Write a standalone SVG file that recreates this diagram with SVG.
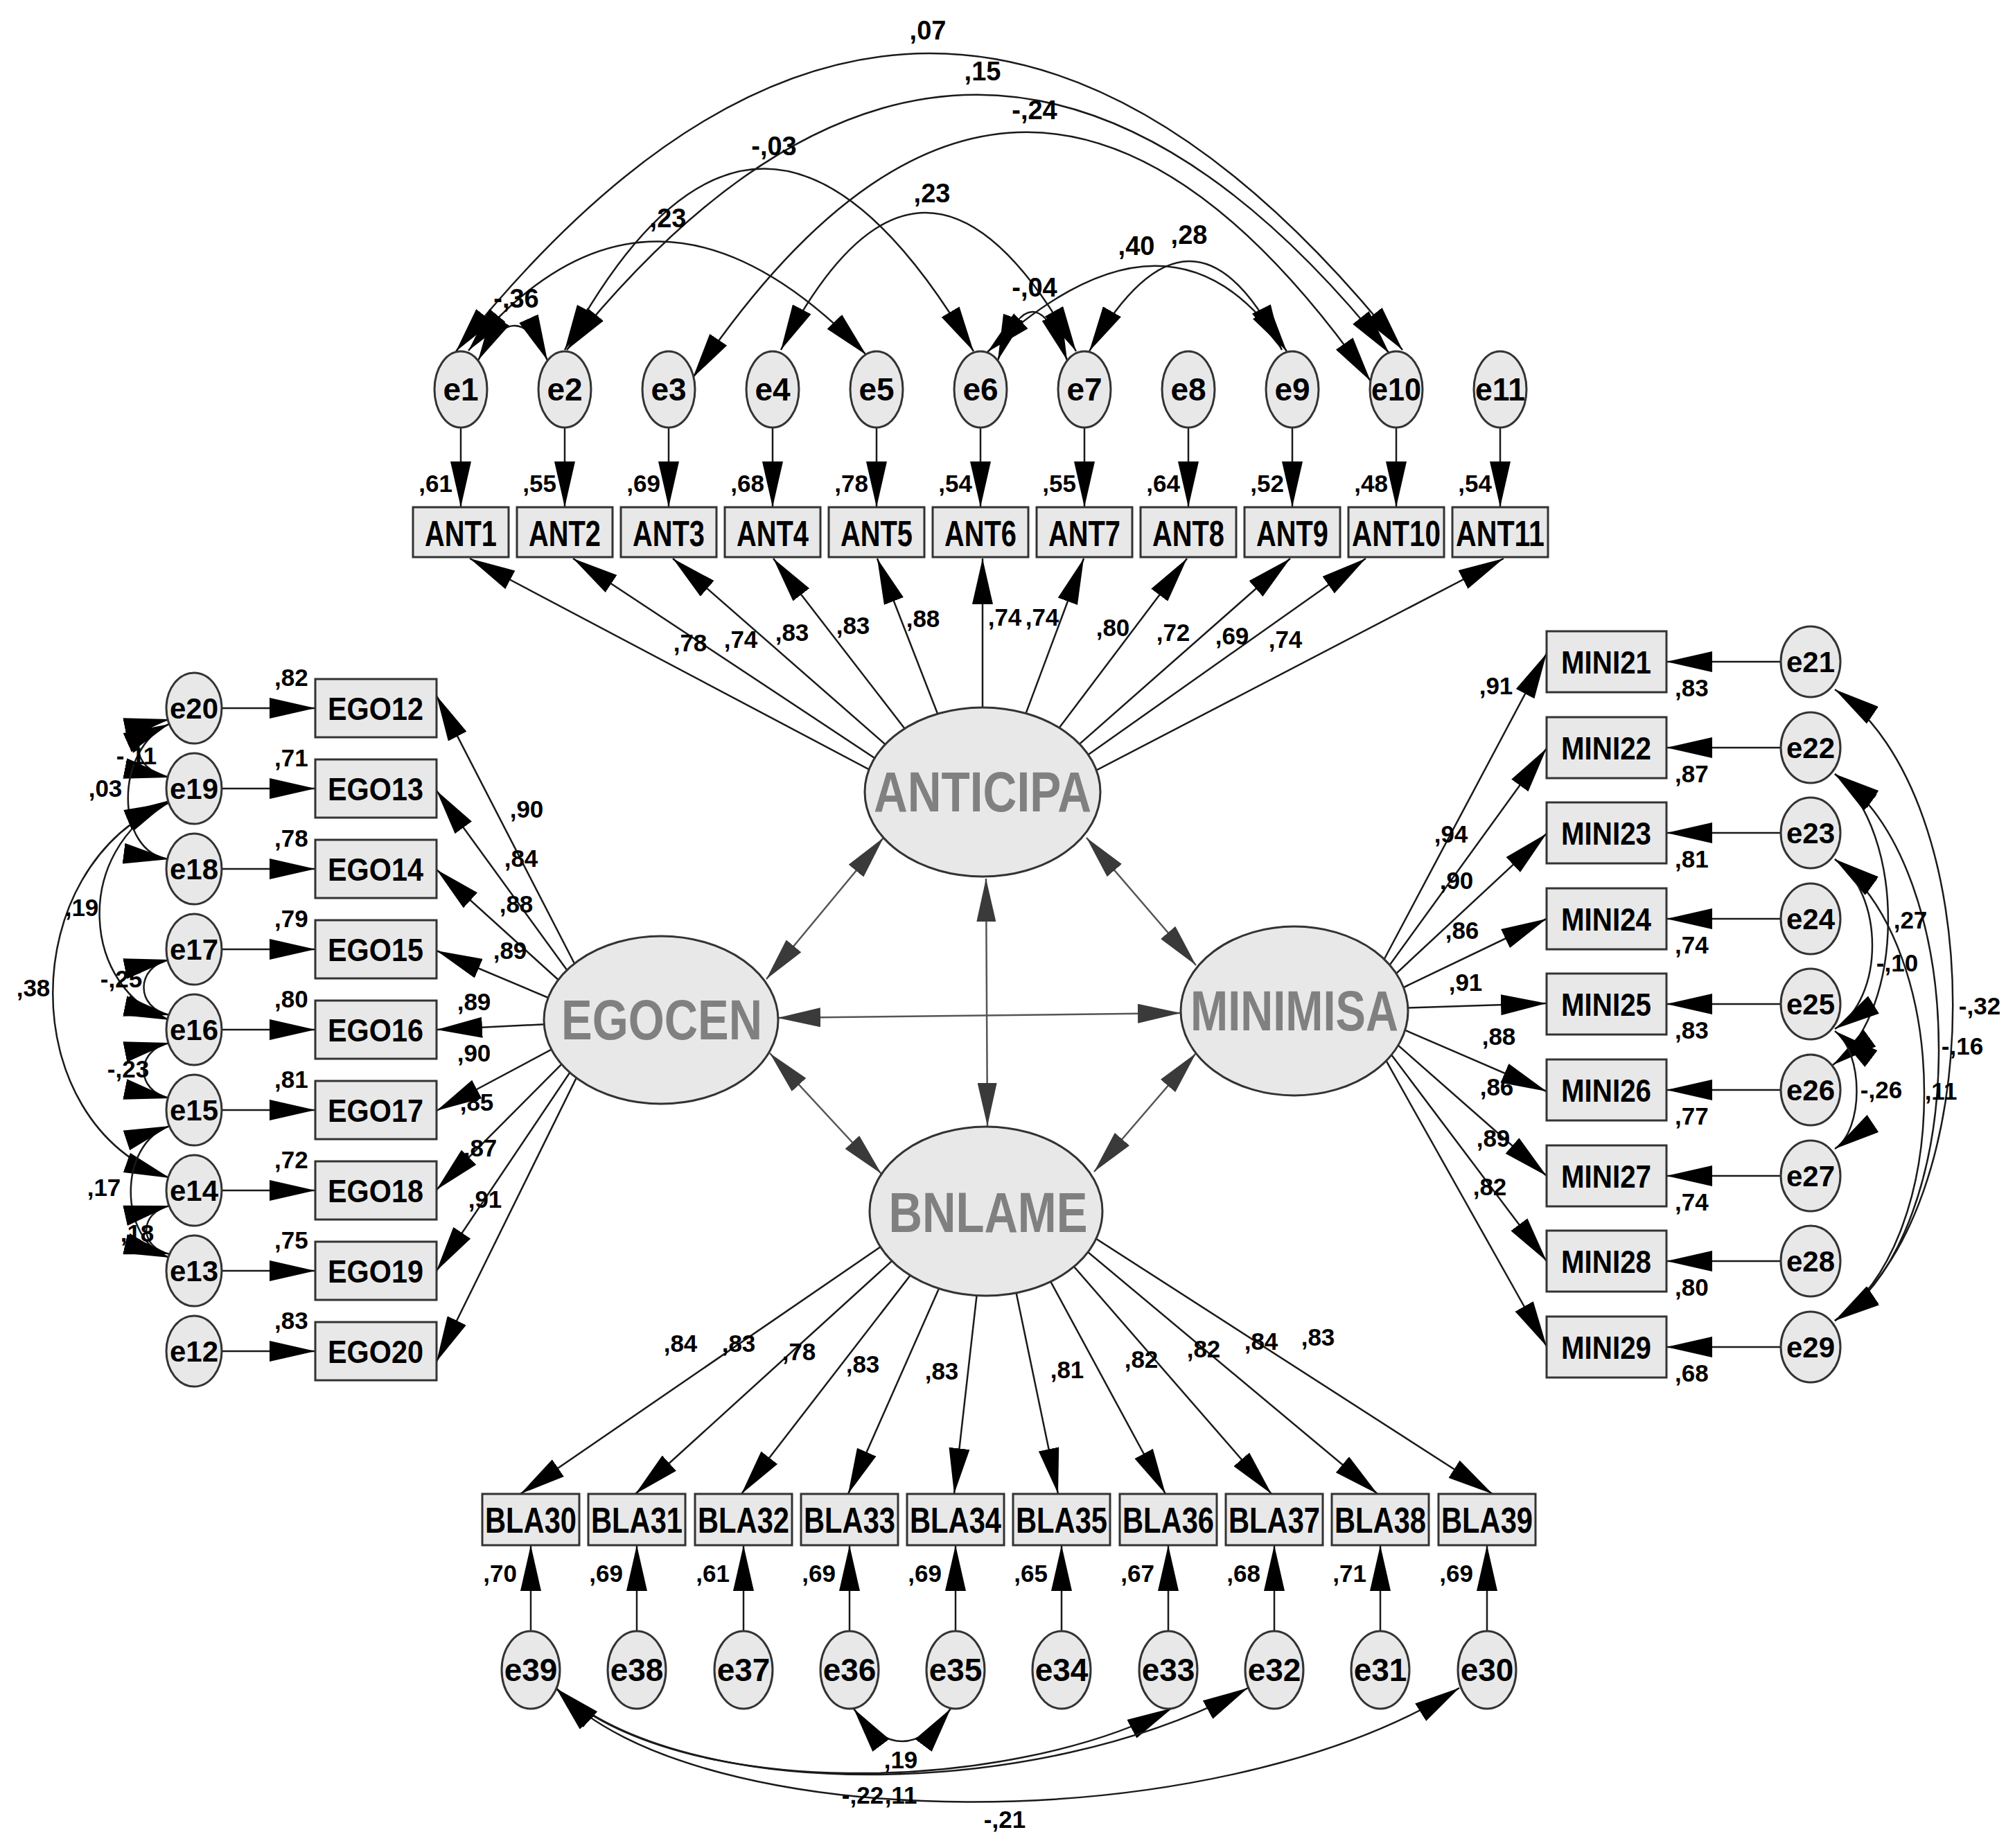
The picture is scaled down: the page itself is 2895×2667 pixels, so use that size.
<svg xmlns="http://www.w3.org/2000/svg" width="2895" height="2667" viewBox="0 0 2895 2667">
<style>
.n rect,.n ellipse{fill:#e8e8e8;stroke:#333;stroke-width:3}
text{font-family:"Liberation Sans",Arial,sans-serif;font-weight:bold}
.lt{fill:#808080;font-size:82px;text-anchor:middle}
.nt{fill:#000;text-anchor:middle}
.ant{font-size:52px}
.ego{font-size:46px}
.er{font-size:46px}
.ers{font-size:42px}
.v{font-size:35px;fill:#000}
.vm{font-size:35px;fill:#000;text-anchor:middle}
.ve{font-size:35px;fill:#000;text-anchor:end}
.vt{font-size:38px;fill:#000;text-anchor:middle}
.lc{stroke:#555}
</style>
<defs>
<marker id="ah" viewBox="0 0 66 30" markerWidth="66" markerHeight="30" refX="66" refY="15" orient="auto-start-reverse" markerUnits="userSpaceOnUse"><path d="M0,0 L66,15 L0,30 z" fill="#000"/></marker>
<marker id="ag" viewBox="0 0 62 28" markerWidth="62" markerHeight="28" refX="62" refY="14" orient="auto-start-reverse" markerUnits="userSpaceOnUse"><path d="M0,0 L62,14 L0,28 z" fill="#3a3a3a"/></marker>
</defs>
<rect width="2895" height="2667" fill="#fff"/>
<g id="connectors" fill="none" stroke="#1a1a1a" stroke-width="2.5">
<path d="M658,507 Q1341,-352 2024,505" marker-start="url(#ah)" marker-end="url(#ah)"/>
<path d="M818,505 Q1411,-234 2005,510" marker-start="url(#ah)" marker-end="url(#ah)"/>
<path d="M1000,545 Q1477,-166 1978,550" marker-start="url(#ah)" marker-end="url(#ah)"/>
<path d="M815,505 Q1096,-19 1405,507" marker-start="url(#ah)" marker-end="url(#ah)"/>
<path d="M676,506 Q939,188 1250,512" marker-start="url(#ah)" marker-end="url(#ah)"/>
<path d="M1127,505 Q1332,108 1553,507" marker-start="url(#ah)" marker-end="url(#ah)"/>
<path d="M690,520 Q745,420 790,520" marker-start="url(#ah)" marker-end="url(#ah)"/>
<path d="M1440,520 Q1490,380 1540,520" marker-start="url(#ah)" marker-end="url(#ah)"/>
<path d="M1425,508 Q1693,260 1857,507" marker-start="url(#ah)" marker-end="url(#ah)"/>
<path d="M1572,507 Q1721,248 1850,505" marker-start="url(#ah)" marker-end="url(#ah)"/>
<path d="M665,617V732" marker-end="url(#ah)"/>
<path d="M815,617V732" marker-end="url(#ah)"/>
<path d="M965,617V732" marker-end="url(#ah)"/>
<path d="M1115,617V732" marker-end="url(#ah)"/>
<path d="M1265,617V732" marker-end="url(#ah)"/>
<path d="M1415,617V732" marker-end="url(#ah)"/>
<path d="M1565,617V732" marker-end="url(#ah)"/>
<path d="M1715,617V732" marker-end="url(#ah)"/>
<path d="M1865,617V732" marker-end="url(#ah)"/>
<path d="M2015,617V732" marker-end="url(#ah)"/>
<path d="M2165,617V732" marker-end="url(#ah)"/>
<path d="M1418,1197L678,806" marker-end="url(#ah)"/>
<path d="M1418,1197L827,806" marker-end="url(#ah)"/>
<path d="M1418,1197L971,806" marker-end="url(#ah)"/>
<path d="M1418,1197L1116,806" marker-end="url(#ah)"/>
<path d="M1418,1197L1266,806" marker-end="url(#ah)"/>
<path d="M1418,1197L1418,806" marker-end="url(#ah)"/>
<path d="M1418,1197L1564,806" marker-end="url(#ah)"/>
<path d="M1418,1197L1713,806" marker-end="url(#ah)"/>
<path d="M1418,1197L1862,806" marker-end="url(#ah)"/>
<path d="M1418,1197L1971,806" marker-end="url(#ah)"/>
<path d="M1418,1197L2170,806" marker-end="url(#ah)"/>
<path d="M320,1022H455" marker-end="url(#ah)"/>
<path d="M320,1138H455" marker-end="url(#ah)"/>
<path d="M320,1254H455" marker-end="url(#ah)"/>
<path d="M320,1370H455" marker-end="url(#ah)"/>
<path d="M320,1486H455" marker-end="url(#ah)"/>
<path d="M320,1602H455" marker-end="url(#ah)"/>
<path d="M320,1718H455" marker-end="url(#ah)"/>
<path d="M320,1834H455" marker-end="url(#ah)"/>
<path d="M320,1950H455" marker-end="url(#ah)"/>
<path d="M872,1474L630,1004" marker-end="url(#ah)"/>
<path d="M872,1474L630,1141" marker-end="url(#ah)"/>
<path d="M872,1474L630,1255" marker-end="url(#ah)"/>
<path d="M872,1474L630,1372" marker-end="url(#ah)"/>
<path d="M872,1474L630,1486" marker-end="url(#ah)"/>
<path d="M872,1474L630,1603" marker-end="url(#ah)"/>
<path d="M872,1474L630,1717" marker-end="url(#ah)"/>
<path d="M872,1474L630,1834" marker-end="url(#ah)"/>
<path d="M872,1474L630,1965" marker-end="url(#ah)"/>
<path d="M245,1038 C185,1050 185,1110 245,1122" marker-start="url(#ah)" marker-end="url(#ah)"/>
<path d="M244,1045 C165,1080 165,1230 244,1240" marker-start="url(#ah)" marker-end="url(#ah)"/>
<path d="M245,1155 C100,1230 120,1430 245,1472" marker-start="url(#ah)" marker-end="url(#ah)"/>
<path d="M245,1158 C20,1250 20,1620 245,1700" marker-start="url(#ah)" marker-end="url(#ah)"/>
<path d="M245,1385 C195,1395 195,1455 245,1465" marker-start="url(#ah)" marker-end="url(#ah)"/>
<path d="M245,1505 C195,1515 195,1575 245,1585" marker-start="url(#ah)" marker-end="url(#ah)"/>
<path d="M245,1625 C170,1650 170,1790 245,1815" marker-start="url(#ah)" marker-end="url(#ah)"/>
<path d="M245,1740 C200,1750 200,1800 245,1810" marker-start="url(#ah)" marker-end="url(#ah)"/>
<path d="M2570,955H2405" marker-end="url(#ah)"/>
<path d="M2570,1079H2405" marker-end="url(#ah)"/>
<path d="M2570,1202H2405" marker-end="url(#ah)"/>
<path d="M2570,1326H2405" marker-end="url(#ah)"/>
<path d="M2570,1449H2405" marker-end="url(#ah)"/>
<path d="M2570,1573H2405" marker-end="url(#ah)"/>
<path d="M2570,1697H2405" marker-end="url(#ah)"/>
<path d="M2570,1820H2405" marker-end="url(#ah)"/>
<path d="M2570,1944H2405" marker-end="url(#ah)"/>
<path d="M1959,1457L2232,943" marker-end="url(#ah)"/>
<path d="M1959,1457L2232,1080" marker-end="url(#ah)"/>
<path d="M1959,1457L2232,1203" marker-end="url(#ah)"/>
<path d="M1959,1457L2232,1326" marker-end="url(#ah)"/>
<path d="M1959,1457L2232,1448" marker-end="url(#ah)"/>
<path d="M1959,1457L2232,1575" marker-end="url(#ah)"/>
<path d="M1959,1457L2232,1697" marker-end="url(#ah)"/>
<path d="M1959,1457L2232,1820" marker-end="url(#ah)"/>
<path d="M1959,1457L2232,1943" marker-end="url(#ah)"/>
<path d="M2648,995 C2875,1150 2875,1750 2648,1906" marker-start="url(#ah)" marker-end="url(#ah)"/>
<path d="M2648,1117 C2848,1250 2848,1780 2648,1906" marker-start="url(#ah)" marker-end="url(#ah)"/>
<path d="M2648,1240 C2820,1370 2820,1790 2648,1906" marker-start="url(#ah)" marker-end="url(#ah)"/>
<path d="M2648,1117 C2751,1200 2751,1460 2645,1537" marker-start="url(#ah)" marker-end="url(#ah)"/>
<path d="M2648,1240 C2720,1290 2720,1440 2648,1485" marker-start="url(#ah)" marker-end="url(#ah)"/>
<path d="M2648,1488 C2690,1520 2690,1630 2648,1658" marker-start="url(#ah)" marker-end="url(#ah)"/>
<path d="M1430,1690L751,2156" marker-end="url(#ah)"/>
<path d="M1430,1690L917,2156" marker-end="url(#ah)"/>
<path d="M1430,1690L1070,2156" marker-end="url(#ah)"/>
<path d="M1430,1690L1224,2156" marker-end="url(#ah)"/>
<path d="M1430,1690L1377,2156" marker-end="url(#ah)"/>
<path d="M1430,1690L1527,2156" marker-end="url(#ah)"/>
<path d="M1430,1690L1682,2156" marker-end="url(#ah)"/>
<path d="M1430,1690L1835,2156" marker-end="url(#ah)"/>
<path d="M1430,1690L1988,2156" marker-end="url(#ah)"/>
<path d="M1430,1690L2154,2156" marker-end="url(#ah)"/>
<path d="M766,2354V2230" marker-end="url(#ah)"/>
<path d="M919,2354V2230" marker-end="url(#ah)"/>
<path d="M1073,2354V2230" marker-end="url(#ah)"/>
<path d="M1226,2354V2230" marker-end="url(#ah)"/>
<path d="M1379,2354V2230" marker-end="url(#ah)"/>
<path d="M1532,2354V2230" marker-end="url(#ah)"/>
<path d="M1686,2354V2230" marker-end="url(#ah)"/>
<path d="M1839,2354V2230" marker-end="url(#ah)"/>
<path d="M1992,2354V2230" marker-end="url(#ah)"/>
<path d="M2146,2354V2230" marker-end="url(#ah)"/>
<path d="M1232,2466 Q1302,2560 1372,2466" marker-start="url(#ah)" marker-end="url(#ah)"/>
<path d="M803,2437 C980,2600 1450,2590 1692,2465" marker-start="url(#ah)" marker-end="url(#ah)"/>
<path d="M803,2437 C990,2605 1500,2600 1801,2436" marker-start="url(#ah)" marker-end="url(#ah)"/>
<path d="M803,2437 C1000,2650 1750,2660 2106,2436" marker-start="url(#ah)" marker-end="url(#ah)"/>
<path class="lc" d="M1275,1209L1106,1413" marker-start="url(#ag)" marker-end="url(#ag)"/>
<path class="lc" d="M1568,1209L1726,1393" marker-start="url(#ag)" marker-end="url(#ag)"/>
<path class="lc" d="M1423,1268L1425,1625" marker-start="url(#ag)" marker-end="url(#ag)"/>
<path class="lc" d="M1122,1469L1704,1462" marker-start="url(#ag)" marker-end="url(#ag)"/>
<path class="lc" d="M1111,1520L1272,1694" marker-start="url(#ag)" marker-end="url(#ag)"/>
<path class="lc" d="M1726,1520L1579,1691" marker-start="url(#ag)" marker-end="url(#ag)"/>
</g>
<g id="ANTICIPA" class="n"><ellipse cx="1418" cy="1143" rx="170" ry="122"/><text class="lt" x="1418" y="1171" textLength="314" lengthAdjust="spacingAndGlyphs">ANTICIPA</text></g>
<g id="EGOCEN" class="n"><ellipse cx="954" cy="1472" rx="169" ry="121"/><text class="lt" x="955" y="1500" textLength="290" lengthAdjust="spacingAndGlyphs">EGOCEN</text></g>
<g id="MINIMISA" class="n"><ellipse cx="1868" cy="1459" rx="164" ry="122"/><text class="lt" x="1868" y="1487" textLength="300" lengthAdjust="spacingAndGlyphs">MINIMISA</text></g>
<g id="BNLAME" class="n"><ellipse cx="1423" cy="1748" rx="168" ry="122"/><text class="lt" x="1426" y="1778" textLength="287" lengthAdjust="spacingAndGlyphs">BNLAME</text></g>
<g id="e1" class="n"><ellipse cx="665" cy="562" rx="38" ry="55"/><text class="nt er" x="665" y="578">e1</text></g>
<g id="e2" class="n"><ellipse cx="815" cy="562" rx="38" ry="55"/><text class="nt er" x="815" y="578">e2</text></g>
<g id="e3" class="n"><ellipse cx="965" cy="562" rx="38" ry="55"/><text class="nt er" x="965" y="578">e3</text></g>
<g id="e4" class="n"><ellipse cx="1115" cy="562" rx="38" ry="55"/><text class="nt er" x="1115" y="578">e4</text></g>
<g id="e5" class="n"><ellipse cx="1265" cy="562" rx="38" ry="55"/><text class="nt er" x="1265" y="578">e5</text></g>
<g id="e6" class="n"><ellipse cx="1415" cy="562" rx="38" ry="55"/><text class="nt er" x="1415" y="578">e6</text></g>
<g id="e7" class="n"><ellipse cx="1565" cy="562" rx="38" ry="55"/><text class="nt er" x="1565" y="578">e7</text></g>
<g id="e8" class="n"><ellipse cx="1715" cy="562" rx="38" ry="55"/><text class="nt er" x="1715" y="578">e8</text></g>
<g id="e9" class="n"><ellipse cx="1865" cy="562" rx="38" ry="55"/><text class="nt er" x="1865" y="578">e9</text></g>
<g id="e10" class="n"><ellipse cx="2015" cy="562" rx="38" ry="55"/><text class="nt er" x="2015" y="578" textLength="72" lengthAdjust="spacingAndGlyphs">e10</text></g>
<g id="e11" class="n"><ellipse cx="2165" cy="562" rx="38" ry="55"/><text class="nt er" x="2165" y="578" textLength="72" lengthAdjust="spacingAndGlyphs">e11</text></g>
<g id="ANT1" class="n"><rect x="596" y="732" width="138" height="72"/><text class="nt ant" x="665" y="788" textLength="104" lengthAdjust="spacingAndGlyphs">ANT1</text></g>
<g id="ANT2" class="n"><rect x="746" y="732" width="138" height="72"/><text class="nt ant" x="815" y="788" textLength="104" lengthAdjust="spacingAndGlyphs">ANT2</text></g>
<g id="ANT3" class="n"><rect x="896" y="732" width="138" height="72"/><text class="nt ant" x="965" y="788" textLength="104" lengthAdjust="spacingAndGlyphs">ANT3</text></g>
<g id="ANT4" class="n"><rect x="1046" y="732" width="138" height="72"/><text class="nt ant" x="1115" y="788" textLength="104" lengthAdjust="spacingAndGlyphs">ANT4</text></g>
<g id="ANT5" class="n"><rect x="1196" y="732" width="138" height="72"/><text class="nt ant" x="1265" y="788" textLength="104" lengthAdjust="spacingAndGlyphs">ANT5</text></g>
<g id="ANT6" class="n"><rect x="1346" y="732" width="138" height="72"/><text class="nt ant" x="1415" y="788" textLength="104" lengthAdjust="spacingAndGlyphs">ANT6</text></g>
<g id="ANT7" class="n"><rect x="1496" y="732" width="138" height="72"/><text class="nt ant" x="1565" y="788" textLength="104" lengthAdjust="spacingAndGlyphs">ANT7</text></g>
<g id="ANT8" class="n"><rect x="1646" y="732" width="138" height="72"/><text class="nt ant" x="1715" y="788" textLength="104" lengthAdjust="spacingAndGlyphs">ANT8</text></g>
<g id="ANT9" class="n"><rect x="1796" y="732" width="138" height="72"/><text class="nt ant" x="1865" y="788" textLength="104" lengthAdjust="spacingAndGlyphs">ANT9</text></g>
<g id="ANT10" class="n"><rect x="1946" y="732" width="138" height="72"/><text class="nt ant" x="2015" y="788" textLength="128" lengthAdjust="spacingAndGlyphs">ANT10</text></g>
<g id="ANT11" class="n"><rect x="2096" y="732" width="138" height="72"/><text class="nt ant" x="2165" y="788" textLength="128" lengthAdjust="spacingAndGlyphs">ANT11</text></g>
<g id="e20" class="n"><ellipse cx="280" cy="1022" rx="40" ry="51"/><text class="nt ers" x="280" y="1037">e20</text></g>
<g id="e19" class="n"><ellipse cx="280" cy="1138" rx="40" ry="51"/><text class="nt ers" x="280" y="1153">e19</text></g>
<g id="e18" class="n"><ellipse cx="280" cy="1254" rx="40" ry="51"/><text class="nt ers" x="280" y="1269">e18</text></g>
<g id="e17" class="n"><ellipse cx="280" cy="1370" rx="40" ry="51"/><text class="nt ers" x="280" y="1385">e17</text></g>
<g id="e16" class="n"><ellipse cx="280" cy="1486" rx="40" ry="51"/><text class="nt ers" x="280" y="1501">e16</text></g>
<g id="e15" class="n"><ellipse cx="280" cy="1602" rx="40" ry="51"/><text class="nt ers" x="280" y="1617">e15</text></g>
<g id="e14" class="n"><ellipse cx="280" cy="1718" rx="40" ry="51"/><text class="nt ers" x="280" y="1733">e14</text></g>
<g id="e13" class="n"><ellipse cx="280" cy="1834" rx="40" ry="51"/><text class="nt ers" x="280" y="1849">e13</text></g>
<g id="e12" class="n"><ellipse cx="280" cy="1950" rx="40" ry="51"/><text class="nt ers" x="280" y="1965">e12</text></g>
<g id="EGO12" class="n"><rect x="455" y="980" width="175" height="84"/><text class="nt ego" x="542" y="1039" textLength="138" lengthAdjust="spacingAndGlyphs">EGO12</text></g>
<g id="EGO13" class="n"><rect x="455" y="1096" width="175" height="84"/><text class="nt ego" x="542" y="1155" textLength="138" lengthAdjust="spacingAndGlyphs">EGO13</text></g>
<g id="EGO14" class="n"><rect x="455" y="1212" width="175" height="84"/><text class="nt ego" x="542" y="1271" textLength="138" lengthAdjust="spacingAndGlyphs">EGO14</text></g>
<g id="EGO15" class="n"><rect x="455" y="1328" width="175" height="84"/><text class="nt ego" x="542" y="1387" textLength="138" lengthAdjust="spacingAndGlyphs">EGO15</text></g>
<g id="EGO16" class="n"><rect x="455" y="1444" width="175" height="84"/><text class="nt ego" x="542" y="1503" textLength="138" lengthAdjust="spacingAndGlyphs">EGO16</text></g>
<g id="EGO17" class="n"><rect x="455" y="1560" width="175" height="84"/><text class="nt ego" x="542" y="1619" textLength="138" lengthAdjust="spacingAndGlyphs">EGO17</text></g>
<g id="EGO18" class="n"><rect x="455" y="1676" width="175" height="84"/><text class="nt ego" x="542" y="1735" textLength="138" lengthAdjust="spacingAndGlyphs">EGO18</text></g>
<g id="EGO19" class="n"><rect x="455" y="1792" width="175" height="84"/><text class="nt ego" x="542" y="1851" textLength="138" lengthAdjust="spacingAndGlyphs">EGO19</text></g>
<g id="EGO20" class="n"><rect x="455" y="1908" width="175" height="84"/><text class="nt ego" x="542" y="1967" textLength="138" lengthAdjust="spacingAndGlyphs">EGO20</text></g>
<g id="MINI21" class="n"><rect x="2232" y="911" width="173" height="88"/><text class="nt ego" x="2318" y="972" textLength="130" lengthAdjust="spacingAndGlyphs">MINI21</text></g>
<g id="MINI22" class="n"><rect x="2232" y="1035" width="173" height="88"/><text class="nt ego" x="2318" y="1096" textLength="130" lengthAdjust="spacingAndGlyphs">MINI22</text></g>
<g id="MINI23" class="n"><rect x="2232" y="1158" width="173" height="88"/><text class="nt ego" x="2318" y="1219" textLength="130" lengthAdjust="spacingAndGlyphs">MINI23</text></g>
<g id="MINI24" class="n"><rect x="2232" y="1282" width="173" height="88"/><text class="nt ego" x="2318" y="1343" textLength="130" lengthAdjust="spacingAndGlyphs">MINI24</text></g>
<g id="MINI25" class="n"><rect x="2232" y="1405" width="173" height="88"/><text class="nt ego" x="2318" y="1466" textLength="130" lengthAdjust="spacingAndGlyphs">MINI25</text></g>
<g id="MINI26" class="n"><rect x="2232" y="1529" width="173" height="88"/><text class="nt ego" x="2318" y="1590" textLength="130" lengthAdjust="spacingAndGlyphs">MINI26</text></g>
<g id="MINI27" class="n"><rect x="2232" y="1653" width="173" height="88"/><text class="nt ego" x="2318" y="1714" textLength="130" lengthAdjust="spacingAndGlyphs">MINI27</text></g>
<g id="MINI28" class="n"><rect x="2232" y="1776" width="173" height="88"/><text class="nt ego" x="2318" y="1837" textLength="130" lengthAdjust="spacingAndGlyphs">MINI28</text></g>
<g id="MINI29" class="n"><rect x="2232" y="1900" width="173" height="88"/><text class="nt ego" x="2318" y="1961" textLength="130" lengthAdjust="spacingAndGlyphs">MINI29</text></g>
<g id="e21" class="n"><ellipse cx="2613" cy="955" rx="43" ry="51"/><text class="nt ers" x="2613" y="970">e21</text></g>
<g id="e22" class="n"><ellipse cx="2613" cy="1079" rx="43" ry="51"/><text class="nt ers" x="2613" y="1094">e22</text></g>
<g id="e23" class="n"><ellipse cx="2613" cy="1202" rx="43" ry="51"/><text class="nt ers" x="2613" y="1217">e23</text></g>
<g id="e24" class="n"><ellipse cx="2613" cy="1326" rx="43" ry="51"/><text class="nt ers" x="2613" y="1341">e24</text></g>
<g id="e25" class="n"><ellipse cx="2613" cy="1449" rx="43" ry="51"/><text class="nt ers" x="2613" y="1464">e25</text></g>
<g id="e26" class="n"><ellipse cx="2613" cy="1573" rx="43" ry="51"/><text class="nt ers" x="2613" y="1588">e26</text></g>
<g id="e27" class="n"><ellipse cx="2613" cy="1697" rx="43" ry="51"/><text class="nt ers" x="2613" y="1712">e27</text></g>
<g id="e28" class="n"><ellipse cx="2613" cy="1820" rx="43" ry="51"/><text class="nt ers" x="2613" y="1835">e28</text></g>
<g id="e29" class="n"><ellipse cx="2613" cy="1944" rx="43" ry="51"/><text class="nt ers" x="2613" y="1959">e29</text></g>
<g id="BLA30" class="n"><rect x="696" y="2156" width="140" height="74"/><text class="nt ant" x="766" y="2212" textLength="132" lengthAdjust="spacingAndGlyphs">BLA30</text></g>
<g id="BLA31" class="n"><rect x="849" y="2156" width="140" height="74"/><text class="nt ant" x="919" y="2212" textLength="132" lengthAdjust="spacingAndGlyphs">BLA31</text></g>
<g id="BLA32" class="n"><rect x="1003" y="2156" width="140" height="74"/><text class="nt ant" x="1073" y="2212" textLength="132" lengthAdjust="spacingAndGlyphs">BLA32</text></g>
<g id="BLA33" class="n"><rect x="1156" y="2156" width="140" height="74"/><text class="nt ant" x="1226" y="2212" textLength="132" lengthAdjust="spacingAndGlyphs">BLA33</text></g>
<g id="BLA34" class="n"><rect x="1309" y="2156" width="140" height="74"/><text class="nt ant" x="1379" y="2212" textLength="132" lengthAdjust="spacingAndGlyphs">BLA34</text></g>
<g id="BLA35" class="n"><rect x="1462" y="2156" width="140" height="74"/><text class="nt ant" x="1532" y="2212" textLength="132" lengthAdjust="spacingAndGlyphs">BLA35</text></g>
<g id="BLA36" class="n"><rect x="1616" y="2156" width="140" height="74"/><text class="nt ant" x="1686" y="2212" textLength="132" lengthAdjust="spacingAndGlyphs">BLA36</text></g>
<g id="BLA37" class="n"><rect x="1769" y="2156" width="140" height="74"/><text class="nt ant" x="1839" y="2212" textLength="132" lengthAdjust="spacingAndGlyphs">BLA37</text></g>
<g id="BLA38" class="n"><rect x="1922" y="2156" width="140" height="74"/><text class="nt ant" x="1992" y="2212" textLength="132" lengthAdjust="spacingAndGlyphs">BLA38</text></g>
<g id="BLA39" class="n"><rect x="2076" y="2156" width="140" height="74"/><text class="nt ant" x="2146" y="2212" textLength="132" lengthAdjust="spacingAndGlyphs">BLA39</text></g>
<g id="e39" class="n"><ellipse cx="766" cy="2410" rx="42" ry="56"/><text class="nt er" x="766" y="2426">e39</text></g>
<g id="e38" class="n"><ellipse cx="919" cy="2410" rx="42" ry="56"/><text class="nt er" x="919" y="2426">e38</text></g>
<g id="e37" class="n"><ellipse cx="1073" cy="2410" rx="42" ry="56"/><text class="nt er" x="1073" y="2426">e37</text></g>
<g id="e36" class="n"><ellipse cx="1226" cy="2410" rx="42" ry="56"/><text class="nt er" x="1226" y="2426">e36</text></g>
<g id="e35" class="n"><ellipse cx="1379" cy="2410" rx="42" ry="56"/><text class="nt er" x="1379" y="2426">e35</text></g>
<g id="e34" class="n"><ellipse cx="1532" cy="2410" rx="42" ry="56"/><text class="nt er" x="1532" y="2426">e34</text></g>
<g id="e33" class="n"><ellipse cx="1686" cy="2410" rx="42" ry="56"/><text class="nt er" x="1686" y="2426">e33</text></g>
<g id="e32" class="n"><ellipse cx="1839" cy="2410" rx="42" ry="56"/><text class="nt er" x="1839" y="2426">e32</text></g>
<g id="e31" class="n"><ellipse cx="1992" cy="2410" rx="42" ry="56"/><text class="nt er" x="1992" y="2426">e31</text></g>
<g id="e30" class="n"><ellipse cx="2146" cy="2410" rx="42" ry="56"/><text class="nt er" x="2146" y="2426">e30</text></g>
<g id="labels">
<text class="vt" x="1339" y="57">,07</text>
<text class="vt" x="1418" y="116">,15</text>
<text class="vt" x="1493" y="172">-,24</text>
<text class="vt" x="1117" y="224">-,03</text>
<text class="vt" x="964" y="328">,23</text>
<text class="vt" x="1345" y="292">,23</text>
<text class="vt" x="745" y="444">-,36</text>
<text class="vt" x="1493" y="428">-,04</text>
<text class="vt" x="1640" y="368">,40</text>
<text class="vt" x="1716" y="352">,28</text>
<text class="ve" x="653" y="710">,61</text>
<text class="ve" x="803" y="710">,55</text>
<text class="ve" x="953" y="710">,69</text>
<text class="ve" x="1103" y="710">,68</text>
<text class="ve" x="1253" y="710">,78</text>
<text class="ve" x="1403" y="710">,54</text>
<text class="ve" x="1553" y="710">,55</text>
<text class="ve" x="1703" y="710">,64</text>
<text class="ve" x="1853" y="710">,52</text>
<text class="ve" x="2003" y="710">,48</text>
<text class="ve" x="2153" y="710">,54</text>
<text class="vm" x="996" y="940">,78</text>
<text class="vm" x="1069" y="935">,74</text>
<text class="vm" x="1143" y="925">,83</text>
<text class="vm" x="1231" y="915">,83</text>
<text class="vm" x="1332" y="905">,88</text>
<text class="vm" x="1450" y="903">,74</text>
<text class="vm" x="1504" y="903">,74</text>
<text class="vm" x="1606" y="918">,80</text>
<text class="vm" x="1693" y="925">,72</text>
<text class="vm" x="1778" y="930">,69</text>
<text class="vm" x="1855" y="935">,74</text>
<text class="v" x="396" y="990">,82</text>
<text class="v" x="396" y="1106">,71</text>
<text class="v" x="396" y="1222">,78</text>
<text class="v" x="396" y="1338">,79</text>
<text class="v" x="396" y="1454">,80</text>
<text class="v" x="396" y="1570">,81</text>
<text class="v" x="396" y="1686">,72</text>
<text class="v" x="396" y="1802">,75</text>
<text class="v" x="396" y="1918">,83</text>
<text class="vm" x="760" y="1180">,90</text>
<text class="vm" x="752" y="1251">,84</text>
<text class="vm" x="745" y="1317">,88</text>
<text class="vm" x="736" y="1384">,89</text>
<text class="vm" x="684" y="1458">,89</text>
<text class="vm" x="684" y="1532">,90</text>
<text class="vm" x="688" y="1603">,85</text>
<text class="vm" x="693" y="1669">,87</text>
<text class="vm" x="700" y="1743">,91</text>
<text class="vm" x="197" y="1103">-,11</text>
<text class="vm" x="152" y="1150">,03</text>
<text class="vm" x="118" y="1322">,19</text>
<text class="vm" x="48" y="1438">,38</text>
<text class="vm" x="175" y="1425">-,25</text>
<text class="vm" x="185" y="1555">-,23</text>
<text class="vm" x="150" y="1726">,17</text>
<text class="vm" x="198" y="1792">,18</text>
<text class="v" x="2417" y="1005">,83</text>
<text class="v" x="2417" y="1129">,87</text>
<text class="v" x="2417" y="1252">,81</text>
<text class="v" x="2417" y="1376">,74</text>
<text class="v" x="2417" y="1499">,83</text>
<text class="v" x="2417" y="1623">,77</text>
<text class="v" x="2417" y="1747">,74</text>
<text class="v" x="2417" y="1870">,80</text>
<text class="v" x="2417" y="1994">,68</text>
<text class="vm" x="2159" y="1002">,91</text>
<text class="vm" x="2094" y="1216">,94</text>
<text class="vm" x="2102" y="1283">,90</text>
<text class="vm" x="2110" y="1355">,86</text>
<text class="vm" x="2115" y="1430">,91</text>
<text class="vm" x="2163" y="1508">,88</text>
<text class="vm" x="2160" y="1581">,86</text>
<text class="vm" x="2155" y="1655">,89</text>
<text class="vm" x="2150" y="1725">,82</text>
<text class="vm" x="2857" y="1464">-,32</text>
<text class="vm" x="2832" y="1522">-,16</text>
<text class="vm" x="2801" y="1587">,11</text>
<text class="vm" x="2757" y="1340">,27</text>
<text class="vm" x="2738" y="1402">-,10</text>
<text class="vm" x="2715" y="1585">-,26</text>
<text class="vm" x="982" y="1951">,84</text>
<text class="vm" x="1066" y="1951">,83</text>
<text class="vm" x="1153" y="1963">,78</text>
<text class="vm" x="1245" y="1981">,83</text>
<text class="vm" x="1359" y="1991">,83</text>
<text class="vm" x="1540" y="1989">,81</text>
<text class="vm" x="1647" y="1974">,82</text>
<text class="vm" x="1737" y="1959">,82</text>
<text class="vm" x="1820" y="1948">,84</text>
<text class="vm" x="1902" y="1942">,83</text>
<text class="ve" x="746" y="2283">,70</text>
<text class="ve" x="899" y="2283">,69</text>
<text class="ve" x="1053" y="2283">,61</text>
<text class="ve" x="1206" y="2283">,69</text>
<text class="ve" x="1359" y="2283">,69</text>
<text class="ve" x="1512" y="2283">,65</text>
<text class="ve" x="1666" y="2283">,67</text>
<text class="ve" x="1819" y="2283">,68</text>
<text class="ve" x="1972" y="2283">,71</text>
<text class="ve" x="2126" y="2283">,69</text>
<text class="vm" x="1300" y="2552">,19</text>
<text class="vm" x="1245" y="2603">-,22</text>
<text class="vm" x="1300" y="2603">,11</text>
<text class="vm" x="1450" y="2638">-,21</text>
</g>
</svg>
